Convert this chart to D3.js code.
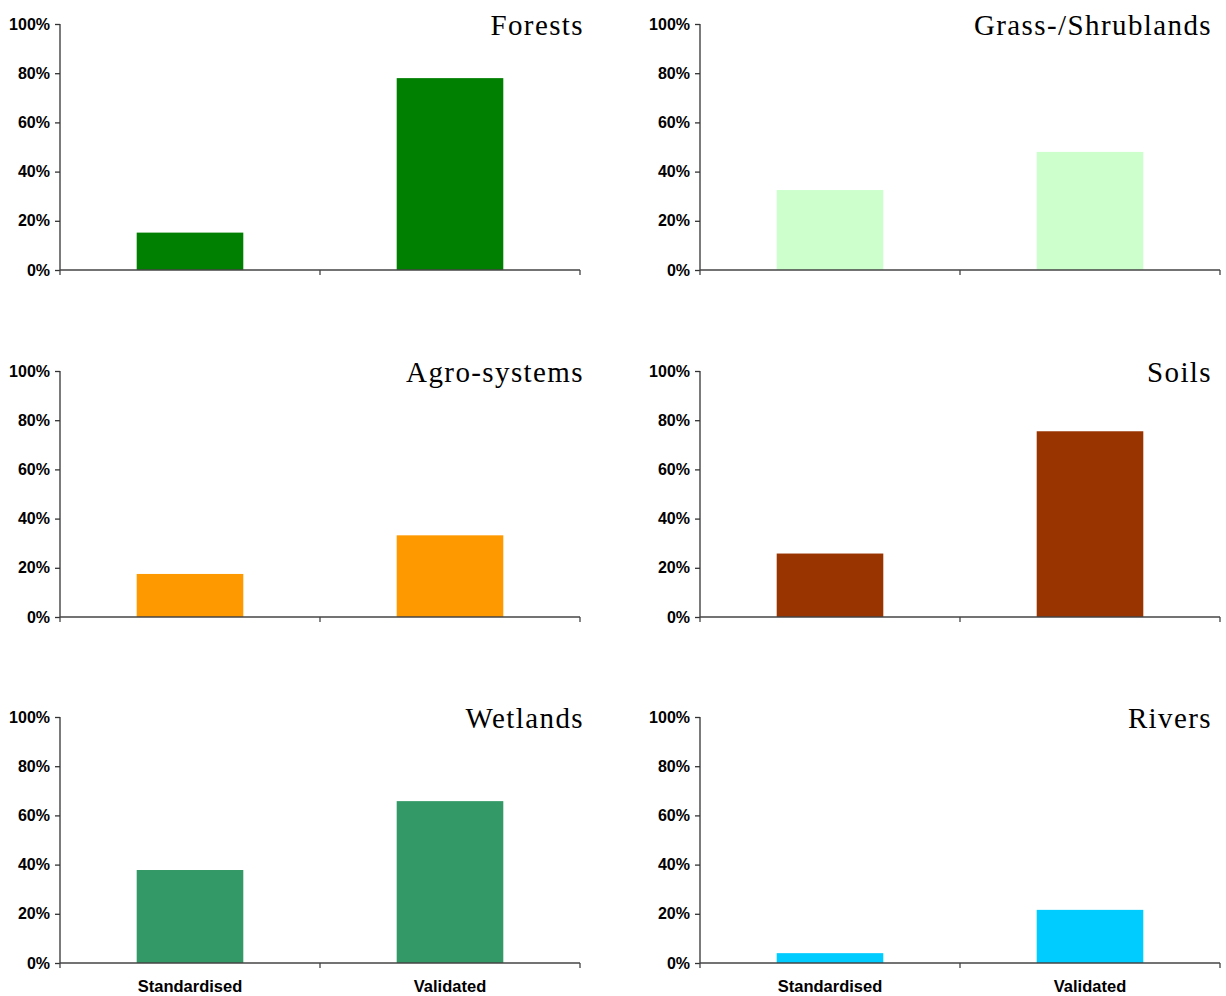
<!DOCTYPE html>
<html>
<head>
<meta charset="utf-8">
<script src="https://cdn.jsdelivr.net/npm/d3@7"></script>
<style>
  html, body { margin: 0; padding: 0; background: #fff; }
  svg { display: block; }
</style>
</head>
<body>
<svg id="chart" width="1226" height="996"></svg>
<script>
// ---- data ----
const categories = ["Standardised", "Validated"];
const panelTitles = ["Forests", "Grass-/Shrublands", "Agro-systems", "Soils", "Wetlands", "Rivers"];
const standardisedValues = [15.2, 32.5, 17.5, 25.8, 37.8, 4.0];
const validatedValues = [78.0, 48.0, 33.2, 75.5, 65.8, 21.6];
const panelColors = ["#008000", "#CCFFCC", "#FF9900", "#993300", "#339966", "#00CCFF"];
const yTicks = [0, 20, 40, 60, 80, 100];

// ---- layout ----
const colX = [60, 700];
const rowY = [24, 371, 717];
const titleRight = [524, 512];
const plotW = 520, plotH = 246;

const svg = d3.select("#chart");

panelTitles.forEach((title, i) => {
  const col = i % 2, row = Math.floor(i / 2);
  const g = svg.append("g").attr("transform", `translate(${colX[col]},${rowY[row]})`);
  const values = [standardisedValues[i], validatedValues[i]];

  const x = d3.scaleBand().domain(categories).range([0, plotW]).padding(0);
  const y = d3.scaleLinear().domain([0, 100]).range([plotH, 0]);
  const barW = x.bandwidth() * 0.41;

  // bars
  g.selectAll("rect.bar").data(categories).join("rect")
    .attr("class", "bar")
    .attr("x", d => x(d) + x.bandwidth() / 2 - barW / 2)
    .attr("width", barW)
    .attr("y", (d, k) => y(values[k]))
    .attr("height", (d, k) => plotH - y(values[k]))
    .attr("fill", panelColors[i]);

  // y axis
  const yAxis = g.append("g")
    .call(d3.axisLeft(y).tickValues(yTicks).tickSize(5).tickPadding(5).tickFormat(d => d + "%"));
  yAxis.select(".domain").attr("stroke", "#333").attr("stroke-width", 1.3).attr("d", `M0,0V${plotH}`);
  yAxis.selectAll(".tick line").attr("stroke", "#333").attr("stroke-width", 1.3);
  yAxis.selectAll("text")
    .attr("fill", "#000")
    .style("font-family", "'Liberation Sans', Arial, sans-serif")
    .style("font-weight", "bold")
    .style("font-size", "16px");

  // x axis line + boundary ticks
  const xAxis = g.append("g").attr("transform", `translate(0,${plotH})`);
  xAxis.append("line").attr("x1", 0).attr("x2", plotW).attr("y1", 0).attr("y2", 0)
    .attr("stroke", "#444").attr("stroke-width", 1.3);
  const bounds = categories.map(c => x(c)).concat([x(categories[categories.length - 1]) + x.step()]);
  xAxis.selectAll("line.bt").data(bounds).join("line").attr("class", "bt")
    .attr("x1", d => d).attr("x2", d => d).attr("y1", 0).attr("y2", 5)
    .attr("stroke", "#444").attr("stroke-width", 1.3);

  if (row === 2) {
    xAxis.selectAll("text.cat").data(categories).join("text").attr("class", "cat")
      .attr("x", d => x(d) + x.bandwidth() / 2)
      .attr("y", 29)
      .attr("text-anchor", "middle")
      .style("font-family", "'Liberation Sans', Arial, sans-serif")
      .style("font-weight", "bold")
      .style("font-size", "16.5px")
      .text(d => d);
  }

  // title
  g.append("text")
    .attr("x", titleRight[col])
    .attr("y", 11)
    .attr("text-anchor", "end")
    .style("font-family", "'Liberation Serif', 'Times New Roman', serif")
    .style("font-size", "29px")
    .style("letter-spacing", "1.4px")
    .text(title);
});
</script>
</body>
</html>
